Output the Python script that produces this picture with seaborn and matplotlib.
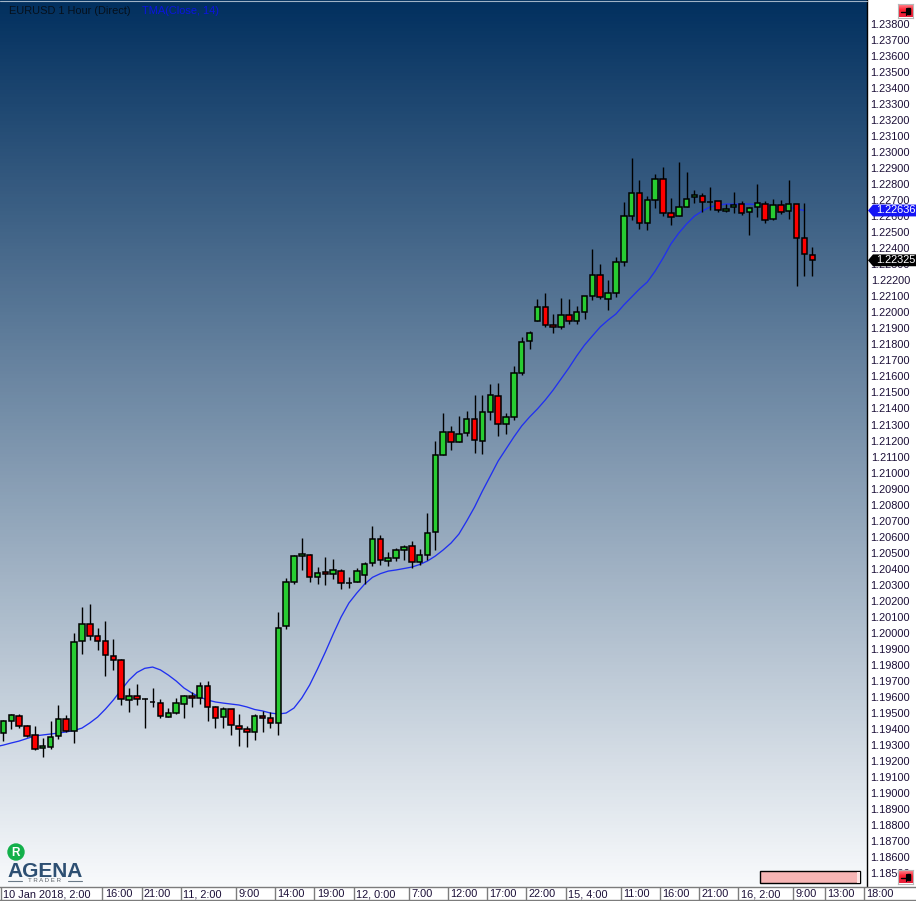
# EURUSD hourly candles with a TMA(Close, 14) line, AgenaTrader look
import numpy as np
import pandas as pd
import matplotlib.pyplot as plt
import seaborn as sns
from matplotlib.colors import LinearSegmentedColormap
from matplotlib.lines import Line2D
from matplotlib.patches import Circle, Polygon, Rectangle

opens = [1.19373, 1.19447, 1.19479, 1.19416, 1.19360, 1.19279, 1.19285, 1.19354, 1.19460, 1.19385,
         1.19947, 1.20053, 1.19978, 1.19947, 1.19855, 1.19828, 1.19579, 1.19603, 1.19585, 1.19570,
         1.19564, 1.19472, 1.19497, 1.19554, 1.19603, 1.19591, 1.19666, 1.19535, 1.19472, 1.19522,
         1.19416, 1.19398, 1.19379, 1.19479, 1.19466, 1.19435, 1.20042, 1.20315, 1.20477, 1.20488,
         1.20346, 1.20378, 1.20365, 1.20384, 1.20313, 1.20315, 1.20359, 1.20434, 1.20584, 1.20446,
         1.20465, 1.20515, 1.20540, 1.20440, 1.20484, 1.20627, 1.21108, 1.21251, 1.21189, 1.21245,
         1.21332, 1.21195, 1.21376, 1.21478, 1.21301, 1.21345, 1.21621, 1.21821, 1.21945, 1.22032,
         1.21919, 1.21907, 1.21982, 1.21945, 1.22001, 1.22100, 1.22232, 1.22082, 1.22119, 1.22313,
         1.22600, 1.22743, 1.22556, 1.22699, 1.22830, 1.22618, 1.22600, 1.22656, 1.22718, 1.22724,
         1.22691, 1.22693, 1.22631, 1.22656, 1.22675, 1.22625, 1.22656, 1.22675, 1.22581, 1.22668,
         1.22631, 1.22675, 1.22462, 1.22356]
highs = [1.19456, 1.19493, 1.19493, 1.19425, 1.19418, 1.19341, 1.19447, 1.19547, 1.19489, 1.19997,
         1.20159, 1.20178, 1.20028, 1.20071, 1.19959, 1.19834, 1.19653, 1.19678, 1.19591, 1.19653,
         1.19585, 1.19529, 1.19591, 1.19610, 1.19628, 1.19691, 1.19697, 1.19541, 1.19535, 1.19522,
         1.19491, 1.19416, 1.19491, 1.19510, 1.19504, 1.20128, 1.20344, 1.20484, 1.20590, 1.20490,
         1.20409, 1.20471, 1.20459, 1.20396, 1.20346, 1.20403, 1.20440, 1.20665, 1.20609, 1.20502,
         1.20527, 1.20546, 1.20571, 1.20521, 1.20746, 1.21195, 1.21370, 1.21289, 1.21351, 1.21382,
         1.21484, 1.21484, 1.21553, 1.21559, 1.21370, 1.21665, 1.21846, 1.21884, 1.22082, 1.22119,
         1.21988, 1.22088, 1.22082, 1.22038, 1.22100, 1.22394, 1.22300, 1.22200, 1.22344, 1.22687,
         1.22962, 1.22826, 1.22724, 1.22861, 1.22905, 1.22711, 1.22937, 1.22874, 1.22762, 1.22743,
         1.22781, 1.22693, 1.22675, 1.22749, 1.22693, 1.22656, 1.22799, 1.22693, 1.22706, 1.22699,
         1.22826, 1.22675, 1.22681, 1.22406]
lows = [1.19327, 1.19402, 1.19408, 1.19350, 1.19271, 1.19227, 1.19277, 1.19339, 1.19381, 1.19314,
        1.19870, 1.19955, 1.19895, 1.19732, 1.19770, 1.19549, 1.19508, 1.19549, 1.19404, 1.19539,
        1.19470, 1.19472, 1.19491, 1.19466, 1.19535, 1.19554, 1.19452, 1.19408, 1.19408, 1.19364,
        1.19296, 1.19289, 1.19333, 1.19383, 1.19404, 1.19364, 1.20025, 1.20307, 1.20394, 1.20319,
        1.20307, 1.20301, 1.20338, 1.20276, 1.20282, 1.20315, 1.20307, 1.20415, 1.20425, 1.20419,
        1.20450, 1.20457, 1.20403, 1.20421, 1.20453, 1.20519, 1.21108, 1.21141, 1.21189, 1.21226,
        1.21120, 1.21114, 1.21326, 1.21226, 1.21239, 1.21326, 1.21609, 1.21771, 1.21945, 1.21907,
        1.21874, 1.21895, 1.21926, 1.21926, 1.21957, 1.22075, 1.22082, 1.22013, 1.22094, 1.22288,
        1.22575, 1.22519, 1.22512, 1.22650, 1.22600, 1.22543, 1.22600, 1.22656, 1.22681, 1.22625,
        1.22637, 1.22629, 1.22625, 1.22618, 1.22606, 1.22481, 1.22593, 1.22556, 1.22575, 1.22612,
        1.22581, 1.22163, 1.22225, 1.22225]
closes = [1.19447, 1.19485, 1.19416, 1.19358, 1.19277, 1.19291, 1.19348, 1.19460, 1.19385, 1.19940,
          1.20053, 1.19978, 1.19947, 1.19859, 1.19828, 1.19585, 1.19603, 1.19585, 1.19585, 1.19570,
          1.19479, 1.19497, 1.19560, 1.19603, 1.19591, 1.19666, 1.19535, 1.19466, 1.19522, 1.19423,
          1.19398, 1.19379, 1.19479, 1.19466, 1.19435, 1.20028, 1.20315, 1.20477, 1.20490, 1.20346,
          1.20371, 1.20365, 1.20390, 1.20309, 1.20313, 1.20384, 1.20428, 1.20584, 1.20453, 1.20465,
          1.20515, 1.20534, 1.20440, 1.20484, 1.20621, 1.21108, 1.21251, 1.21189, 1.21239, 1.21332,
          1.21201, 1.21376, 1.21484, 1.21301, 1.21345, 1.21621, 1.21815, 1.21871, 1.22032, 1.21919,
          1.21907, 1.21982, 1.21945, 1.22001, 1.22100, 1.22232, 1.22094, 1.22119, 1.22313, 1.22600,
          1.22743, 1.22556, 1.22699, 1.22830, 1.22618, 1.22593, 1.22656, 1.22706, 1.22731, 1.22687,
          1.22691, 1.22637, 1.22643, 1.22668, 1.22618, 1.22650, 1.22681, 1.22575, 1.22668, 1.22625,
          1.22675, 1.22462, 1.22362, 1.22325]
# starts one bar before the first candle, the line runs off the left edge
tma = [1.19288, 1.19299, 1.19312, 1.19324, 1.19340, 1.19356, 1.19362, 1.19368, 1.19374, 1.19381, 1.19390,
       1.19405, 1.19437, 1.19474, 1.19524, 1.19580, 1.19643, 1.19705, 1.19752, 1.19778, 1.19786,
       1.19768, 1.19736, 1.19699, 1.19655, 1.19624, 1.19599, 1.19580, 1.19568, 1.19561, 1.19555,
       1.19549, 1.19537, 1.19521, 1.19512, 1.19499, 1.19493, 1.19499, 1.19530, 1.19593, 1.19674,
       1.19774, 1.19880, 1.19992, 1.20098, 1.20186, 1.20248, 1.20304, 1.20346, 1.20369, 1.20385,
       1.20392, 1.20401, 1.20410, 1.20426, 1.20448, 1.20479, 1.20517, 1.20560, 1.20616, 1.20698,
       1.20785, 1.20885, 1.20978, 1.21072, 1.21147, 1.21222, 1.21291, 1.21347, 1.21397, 1.21453,
       1.21515, 1.21584, 1.21653, 1.21728, 1.21796, 1.21853, 1.21909, 1.21952, 1.21990, 1.22046,
       1.22096, 1.22146, 1.22190, 1.22258, 1.22339, 1.22427, 1.22495, 1.22552, 1.22601, 1.22633,
       1.22658, 1.22670, 1.22676, 1.22676, 1.22676, 1.22676, 1.22673, 1.22670, 1.22667, 1.22664,
       1.22658, 1.22645, 1.22636]

time_bars = [0, 14, 19, 24, 31, 36, 41, 46, 53, 58, 63, 68, 73, 80, 85, 90, 95, 102, 106, 111]
time_labels = ["10 Jan 2018, 2:00", "16:00", "21:00", "11, 2:00", "9:00", "14:00", "19:00",
               "12, 0:00", "7:00", "12:00", "17:00", "22:00", "15, 4:00", "11:00", "16:00",
               "21:00", "16, 2:00", "9:00", "13:00", "18:00"]
price_ticks = [1.185 + 0.001 * k for k in range(54)]

W, H = 916, 901
sns.set_style("white")
plt.rcParams["font.family"] = ["Liberation Sans", "DejaVu Sans"]
TXT = 7.9


def box(x0, y0, x1, y1):
    # pixel box (y down) -> figure fractions for add_axes
    return [x0 / W, 1 - y1 / H, (x1 - x0) / W, (y1 - y0) / H]


def fx(x):
    return x / W


def fy(y):
    return 1 - y / H


df = pd.DataFrame({"open": opens, "high": highs, "low": lows, "close": closes})
df["bar"] = df.index
df["bottom"] = df[["open", "close"]].min(axis=1)
df["body"] = (df["close"] - df["open"]).abs()
ups = df[df["close"] >= df["open"]]
downs = df[df["close"] < df["open"]]

fig = plt.figure(figsize=(W / 100, H / 100), dpi=100, facecolor="white")
ax = fig.add_axes(box(0, 0, 867, 887))

grad = LinearSegmentedColormap.from_list("bg", ["#02305f", "#f8fafc"])
ax.imshow(np.linspace(0, 1, 256)[:, None], cmap=grad, aspect="auto", extent=[0, 1, 0, 1],
          transform=ax.transAxes, zorder=0)

sns.lineplot(x=list(range(-1, len(tma) - 1)), y=tma, color="#2030f0", lw=0.95, ax=ax, zorder=2)
ax.vlines(df["bar"], df["low"], df["high"], color="black", lw=1.0, zorder=3)
sns.barplot(x=ups["bar"].values, y=ups["body"].values, bottom=ups["bottom"].values, native_scale=True,
            color="#28cc32", saturation=1, width=0.7, errorbar=None, edgecolor="black", linewidth=1.1,
            ax=ax, zorder=4)
sns.barplot(x=downs["bar"].values, y=downs["body"].values, bottom=downs["bottom"].values, native_scale=True,
            color="#ff0000", saturation=1, width=0.7, errorbar=None, edgecolor="black", linewidth=1.1,
            ax=ax, zorder=4)

# 7.853 px per bar, first bar at x=3.4
xmin = -3.4 / 7.853
xmax = (867 - 3.4) / 7.853
ymin, ymax = 1.18413, 1.23950
ax.set_xlim(xmin, xmax)
ax.set_ylim(ymin, ymax)
ax.axis("off")

# thin light edge along the top of the chart
fig.add_artist(Line2D([0, fx(867)], [fy(0.5), fy(0.5)], color="#9fb2c6", lw=0.8))

# price panel
axp = fig.add_axes(box(867, 0, 916, 887))
axp.set_xlim(867, 916)
axp.set_ylim(ymin, ymax)
axp.set_xticks([])
axp.set_yticks(price_ticks)
axp.set_yticklabels(["%.5f" % t for t in price_ticks])
axp.tick_params(axis="y", length=0, pad=-31, labelsize=TXT, labelcolor="#1c1038")
sns.despine(ax=axp, top=True, right=True, bottom=True)
axp.spines["left"].set_color("black")
axp.spines["left"].set_linewidth(1.0)


def flag(price, color):
    d = 0.00037
    pts = [(868, price), (873, price + d), (916, price + d), (916, price - d), (873, price - d)]
    axp.add_patch(Polygon(pts, closed=True, color=color, lw=0, zorder=5))
    axp.text(876, price, "%.5f" % price, color="white", fontsize=TXT, va="center", ha="left", zorder=6)


flag(tma[-1], "#1414f5")
flag(closes[-1], "black")

# time panel
axt = fig.add_axes(box(0, 887, 916, 900))
axt.set_xlim(xmin, (916 - 3.4) / 7.853)
axt.set_ylim(0, 1)
axt.set_xticks([])
axt.set_yticks([])
for s in axt.spines.values():
    s.set_color("#7c7c7c")
    s.set_linewidth(1.0)
axt.spines["left"].set_visible(False)
axt.spines["right"].set_visible(False)
for b, lab in zip(time_bars, time_labels):
    left = max(b - 1.4, -0.3)
    axt.axvline(left, color="#7c7c7c", lw=1.0)
    axt.text(left + 0.3, 0.2, lab, fontsize=TXT, color="#1c1038", va="baseline", ha="left")

# header
fig.text(fx(9), fy(14.5), "EURUSD 1 Hour (Direct)", color="#06101c", fontsize=TXT, va="baseline")
fig.text(fx(142), fy(14.5), "TMA(Close, 14)", color="#0a14e0", fontsize=TXT, va="baseline")

# status bar bottom right
fig.add_artist(Rectangle((fx(760), fy(883)), 100 / W, 12 / H, transform=fig.transFigure,
                         facecolor="#f6b4b4", edgecolor="black", lw=1.0))
fig.add_artist(Rectangle((fx(857), fy(882.5)), 2.5 / W, 11 / H, transform=fig.transFigure,
                         facecolor="#fbe4e4", edgecolor="none"))


def pin_button(x0, y0):
    axb = fig.add_axes(box(x0, y0, x0 + 15, y0 + 14))
    cm = LinearSegmentedColormap.from_list("btn", ["#ff9aa0", "#ff2030", "#e8203c"])
    axb.imshow(np.linspace(0, 1, 32)[:, None], cmap=cm, aspect="auto", extent=[0, 15, 14, 0])
    axb.plot([2.5, 11], [8, 8], color="black", lw=1.0)
    axb.add_patch(Rectangle((8.5, 4.5), 3.5, 5.5, color="black"))
    axb.plot([7.5, 7.5], [4, 11.5], color="black", lw=0.8)
    axb.set_xlim(0, 15)
    axb.set_ylim(14, 0)
    axb.set_xticks([])
    axb.set_yticks([])
    for s in axb.spines.values():
        s.set_color("#b8b8b8")


pin_button(898, 3.5)
pin_button(898, 869.5)

# logo
logo_ax = fig.add_axes([0, 0, 1, 1], facecolor="none")
logo_ax.set_xlim(0, W)
logo_ax.set_ylim(H, 0)
logo_ax.axis("off")
logo_ax.add_patch(Circle((16, 852), 8, color="#12b04a"))
logo_ax.text(16, 852.5, "R", color="white", fontsize=8.5, fontweight="bold", ha="center", va="center")
logo_ax.text(7.5, 877, "AGENA", color="#2d4f72", fontsize=15, fontweight="bold", ha="left", va="baseline")
logo_ax.text(45, 881, "T R A D E R", color="#5a6066", fontsize=4.4, ha="center", va="center")
logo_ax.plot([8, 22], [880.5, 880.5], color="#6a7a88", lw=0.8)
logo_ax.plot([68, 82], [880.5, 880.5], color="#6a7a88", lw=0.8)

fig.savefig("out.png", dpi=100)
